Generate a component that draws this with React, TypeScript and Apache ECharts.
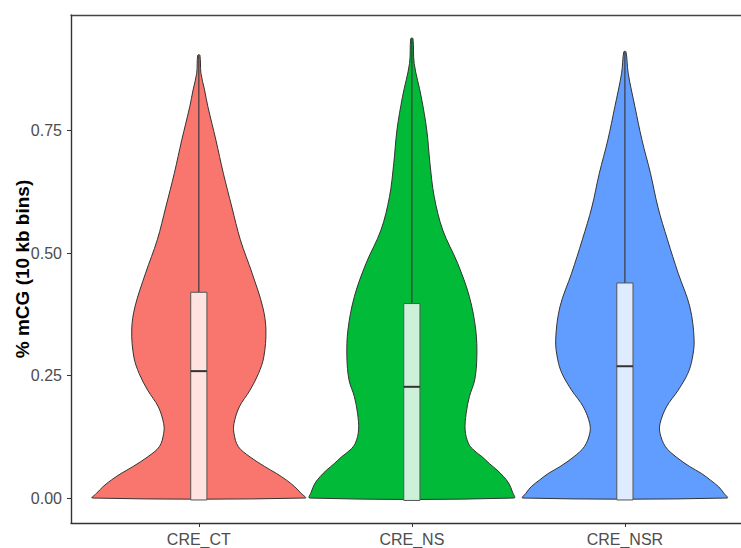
import React, { useEffect, useRef } from "react";
import * as echarts from "echarts";

const categories = ["CRE_CT", "CRE_NS", "CRE_NSR"];
const violinColors = ["#F8766D", "#00BA38", "#619CFF"];
const boxColors = ["#FEE3E1", "#CCF0D8", "#DFEBFF"];

// violin density profiles (y level, relative half-width 0..1)
const ctLevels = [0, 0.0095, 0.023, 0.037, 0.05, 0.064, 0.084, 0.105, 0.132, 0.152, 0.186, 0.22, 0.254, 0.288, 0.343, 0.39, 0.459, 0.527, 0.594, 0.663, 0.731, 0.799, 0.833, 0.867, 0.904];
const ctDensity = [1.0, 0.96, 0.9, 0.82, 0.73, 0.62, 0.48, 0.37, 0.33, 0.33, 0.38, 0.48, 0.56, 0.61, 0.63, 0.6, 0.5, 0.39, 0.31, 0.23, 0.16, 0.085, 0.054, 0.02, 0.01];

const nsLevels = [0, 0.012, 0.03, 0.044, 0.057, 0.07, 0.084, 0.098, 0.112, 0.139, 0.173, 0.207, 0.241, 0.288, 0.343, 0.411, 0.479, 0.547, 0.615, 0.683, 0.751, 0.819, 0.887, 0.938];
const nsDensity = [0.96, 0.945, 0.91, 0.86, 0.8, 0.73, 0.66, 0.58, 0.53, 0.5, 0.51, 0.54, 0.59, 0.61, 0.6, 0.54, 0.43, 0.29, 0.21, 0.17, 0.14, 0.088, 0.022, 0.01];

const nsrLevels = [0, 0.0095, 0.023, 0.037, 0.05, 0.064, 0.084, 0.105, 0.132, 0.152, 0.186, 0.22, 0.254, 0.282, 0.322, 0.39, 0.459, 0.527, 0.594, 0.663, 0.731, 0.799, 0.867, 0.911];
const nsrDensity = [0.96, 0.93, 0.88, 0.8, 0.72, 0.61, 0.48, 0.38, 0.33, 0.33, 0.39, 0.5, 0.59, 0.63, 0.65, 0.61, 0.5, 0.4, 0.31, 0.24, 0.16, 0.094, 0.031, 0.01];

// box plot statistics
const boxQ1 = [-0.004, -0.005, -0.004];
const boxMedian = [0.259, 0.227, 0.269];
const boxQ3 = [0.42, 0.397, 0.439];
const whiskerMax = [0.904, 0.938, 0.911];

const yTicks = [0, 0.25, 0.5, 0.75];
const xTicks = [1, 2, 3];

const levelsList = [ctLevels, nsLevels, nsrLevels];
const densityList = [ctDensity, nsDensity, nsrDensity];

export default function App() {
  const ref = useRef<HTMLDivElement>(null);
  useEffect(() => {
    if (!ref.current) return;
    const chart = echarts.init(ref.current, null, { renderer: "svg" });
    const maxHalf = 0.5;
    const boxHalf = 0.038;
    const font = "'Liberation Sans', Arial, sans-serif";

    const renderItem = (params: any, api: any) => {
      const i = params.dataIndex;
      const c = api.value(0);
      const lv = levelsList[i];
      const dn = densityList[i];
      const pts: number[][] = [];
      for (let k = 0; k < lv.length; k++) pts.push(api.coord([c - dn[k] * maxHalf, lv[k]]));
      for (let k = lv.length - 1; k >= 0; k--) pts.push(api.coord([c + dn[k] * maxHalf, lv[k]]));
      const bl = api.coord([c - boxHalf, boxQ3[i]]);
      const br = api.coord([c + boxHalf, boxQ1[i]]);
      const mL = api.coord([c - boxHalf, boxMedian[i]]);
      const mR = api.coord([c + boxHalf, boxMedian[i]]);
      const wT = api.coord([c, whiskerMax[i]]);
      const wB = api.coord([c, boxQ3[i]]);
      return {
        type: "group",
        children: [
          {
            type: "polygon",
            shape: { points: pts, smooth: 0.35 },
            style: { fill: violinColors[i], stroke: "#333333", lineWidth: 1 },
          },
          {
            type: "line",
            shape: { x1: wB[0], y1: wB[1], x2: wT[0], y2: wT[1] },
            style: { stroke: "#3a3a3a", lineWidth: 1.2 },
          },
          {
            type: "rect",
            shape: { x: bl[0], y: bl[1], width: br[0] - bl[0], height: br[1] - bl[1] },
            style: { fill: boxColors[i], stroke: "#555555", lineWidth: 1 },
          },
          {
            type: "line",
            shape: { x1: mL[0], y1: mL[1], x2: mR[0], y2: mR[1] },
            style: { stroke: "#333333", lineWidth: 2 },
          },
        ],
      };
    };

    chart.setOption({
      animation: false,
      backgroundColor: "#ffffff",
      grid: {
        left: 71,
        top: 15,
        right: 0,
        bottom: 25,
        show: false,
        containLabel: false,
        outerBoundsMode: "none",
      },
      xAxis: [
        {
          type: "value",
          min: 0.4,
          max: 3.545,
          splitLine: { show: false },
          axisLine: { show: true, onZero: false, lineStyle: { color: "#333333", width: 1.4 } },
          axisTick: { show: true, length: 4, customValues: xTicks, lineStyle: { color: "#333333" } },
          axisLabel: {
            customValues: xTicks,
            formatter: (v: number) => categories[Math.round(v) - 1] || "",
            color: "#4D4D4D",
            fontSize: 16,
            fontFamily: font,
            margin: 8,
          },
        },
        {
          type: "value",
          position: "top",
          min: 0.4,
          max: 3.545,
          splitLine: { show: false },
          axisLine: { show: true, onZero: false, lineStyle: { color: "#444444", width: 1.4 } },
          axisTick: { show: false },
          axisLabel: { show: false },
        },
      ],
      yAxis: {
        type: "value",
        min: -0.051,
        max: 0.986,
        splitLine: { show: false },
        axisLine: { show: true, onZero: false, lineStyle: { color: "#333333", width: 1.4 } },
        axisTick: { show: true, length: 4, customValues: yTicks, lineStyle: { color: "#333333" } },
        axisLabel: {
          customValues: yTicks,
          formatter: (v: number) => v.toFixed(2),
          color: "#4D4D4D",
          fontSize: 16,
          fontFamily: font,
          margin: 9,
        },
        name: "% mCG (10 kb bins)",
        nameLocation: "middle",
        nameGap: 39,
        nameMoveOverlap: false,
        nameTextStyle: { fontSize: 19, fontWeight: "bold", color: "#000000", fontFamily: font },
      },
      series: [
        {
          type: "custom",
          coordinateSystem: "cartesian2d",
          renderItem,
          encode: { x: 0 },
          data: xTicks.map((v) => [v]),
          clip: false,
        },
      ],
    });
    return () => chart.dispose();
  }, []);
  return (
    <div
      ref={ref}
      style={{ position: "fixed", left: 0, top: 0, width: 741, height: 548, background: "#fff" }}
    />
  );
}
